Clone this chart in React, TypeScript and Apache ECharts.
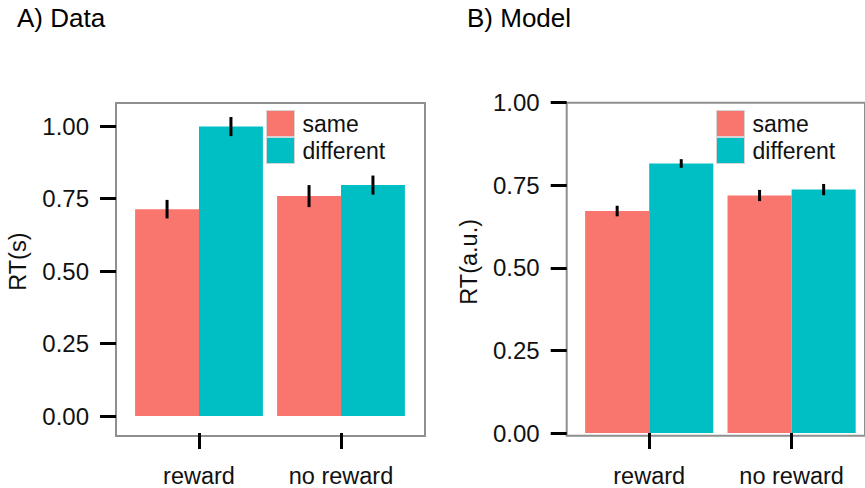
import React, { useEffect, useRef } from "react";
import * as echarts from "echarts";

const categories = ["reward", "no reward"];
const groups = ["same", "different"];
const yTicks = [0, 0.25, 0.5, 0.75, 1.0];

// A) Data
const dataSame = [0.714, 0.759];
const dataDiff = [0.999, 0.797];
const dataSameErr = [0.032, 0.038];
const dataDiffErr = [0.033, 0.033];

// B) Model
const modelSame = [0.672, 0.719];
const modelDiff = [0.816, 0.737];
const modelSameErr = [0.016, 0.017];
const modelDiffErr = [0.013, 0.017];

const RED = "#F8766D";
const TEAL = "#00BFC4";
const FRAME = "#8f8f8f";
const FONT = "'Liberation Sans', Arial, sans-serif";

function errSeries(name: string, values: number[], errs: number[], offset: number, idx: number) {
  return {
    type: "custom",
    name,
    xAxisIndex: idx,
    yAxisIndex: idx,
    z: 5,
    data: values.map((v, i) => [i, v, errs[i]]),
    renderItem: (params: any, api: any) => {
      const cat = api.value(0);
      const v = api.value(1);
      const e = api.value(2);
      const band = api.size([1, 0])[0];
      const top = api.coord([cat, v + e]);
      const bot = api.coord([cat, v - e]);
      const x = top[0] + offset * band;
      return {
        type: "line",
        shape: { x1: x, y1: top[1], x2: x, y2: bot[1] },
        style: { stroke: "#000", lineWidth: 3 },
      };
    },
  };
}

function barSeries(name: string, values: number[], color: string, idx: number) {
  return {
    type: "bar",
    name,
    xAxisIndex: idx,
    yAxisIndex: idx,
    data: values,
    barWidth: "45%",
    barGap: "0%",
    itemStyle: { color },
  };
}

function catAxis(gridIndex: number, offset: number) {
  return {
    type: "category",
    gridIndex,
    data: categories,
    offset,
    axisLine: { show: false, onZero: false },
    axisTick: { show: true, alignWithLabel: true, length: 16, lineStyle: { color: "#000", width: 3 } },
    axisLabel: { fontSize: 23.5, color: "#111", margin: 31, fontFamily: FONT },
    splitLine: { show: false },
  };
}

function valAxis(gridIndex: number, offset: number, name: string, gap: number, shift: number) {
  return {
    type: "value",
    gridIndex,
    min: 0,
    max: 1,
    interval: 0.25,
    offset,
    name,
    nameLocation: "middle",
    nameGap: gap,
    nameTextStyle: { fontSize: 23.5, color: "#111", fontFamily: FONT, padding: [0, 0, 0, shift] },
    axisLine: { show: false, onZero: false },
    axisTick: { show: true, length: 16, lineStyle: { color: "#000", width: 3 } },
    axisLabel: {
      fontSize: 24,
      color: "#111",
      margin: 27,
      fontFamily: FONT,
      formatter: (v: number) => (yTicks.includes(v) ? v.toFixed(2) : ""),
    },
    splitLine: { show: false },
  };
}

const hiddenAxis = (gridIndex: number) => ({ type: "value", gridIndex, show: false });

export default function App() {
  const ref = useRef<HTMLDivElement>(null);
  useEffect(() => {
    if (!ref.current) return;
    const chart = echarts.init(ref.current, null, { renderer: "svg" });
    const legendCommon = {
      orient: "vertical",
      data: groups,
      itemWidth: 28,
      itemHeight: 26,
      itemGap: 0,
      padding: 0,
      icon: "rect",
      selectedMode: false,
      itemStyle: { borderColor: "#d4d4d4", borderWidth: 1 },
      textStyle: { fontSize: 23, color: "#111", fontFamily: FONT, padding: [9, 0, 0, 3], lineHeight: 17 },
    };
    const titleStyle = { fontSize: 26, fontWeight: "normal", color: "#000", fontFamily: FONT };
    chart.setOption({
      animation: false,
      backgroundColor: "#fff",
      title: [
        { text: "A) Data", left: 17, top: 5, padding: 0, textStyle: titleStyle },
        { text: "B) Model", left: 467, top: 5, padding: 0, textStyle: titleStyle },
      ],
      legend: [
        { ...legendCommon, left: 266, top: 110 },
        { ...legendCommon, left: 716, top: 110 },
      ],
      grid: [
        { left: 128, top: 126.3, width: 284, height: 293 },
        { left: 116, top: 103, width: 309, height: 333, show: true, borderColor: FRAME, borderWidth: 2, backgroundColor: "transparent" },
        { left: 578, top: 102.7, width: 284.8, height: 333 },
        { left: 566.7, top: 102.7, width: 330, height: 333, show: true, borderColor: FRAME, borderWidth: 2, backgroundColor: "transparent" },
      ],
      xAxis: [catAxis(0, 17), hiddenAxis(1), catAxis(2, 0), hiddenAxis(3)],
      yAxis: [
        valAxis(0, 12, "RT(s)", 86, 19),
        hiddenAxis(1),
        valAxis(2, 11.3, "RT(a.u.)", 86, 12),
        hiddenAxis(3),
      ],
      series: [
        barSeries("same", dataSame, RED, 0),
        barSeries("different", dataDiff, TEAL, 0),
        errSeries("errA1", dataSame, dataSameErr, -0.225, 0),
        errSeries("errA2", dataDiff, dataDiffErr, 0.225, 0),
        barSeries("same", modelSame, RED, 2),
        barSeries("different", modelDiff, TEAL, 2),
        errSeries("errB1", modelSame, modelSameErr, -0.225, 2),
        errSeries("errB2", modelDiff, modelDiffErr, 0.225, 2),
      ],
    });
    return () => chart.dispose();
  }, []);
  return (
    <div
      ref={ref}
      style={{ position: "fixed", left: 0, top: 0, width: 865, height: 488 }}
    />
  );
}
